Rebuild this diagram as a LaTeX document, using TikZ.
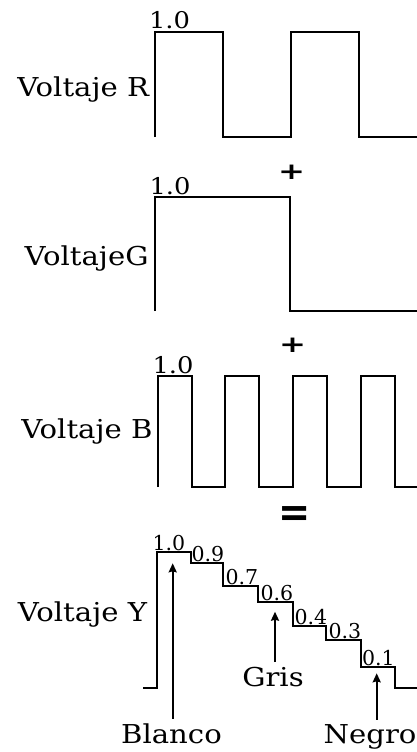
\documentclass[tikz,border=0pt]{standalone}
\usepackage{fontspec}
\usetikzlibrary{arrows.meta}
\newfontfamily\lblfont[FakeStretch=1.12]{DejaVu Serif}
\newfontfamily\numfont{DejaVu Serif}
\newfontfamily\opfont{DejaVu Sans}
\begin{document}
\begin{tikzpicture}[x=1pt,y=-1pt,
  wave/.style={line width=2pt, line join=miter},
  lbl/.style={font=\lblfont\fontsize{26}{30}\selectfont, inner sep=0pt, outer sep=0pt},
  toplbl/.style={font=\lblfont\fontsize{23}{27}\selectfont, inner sep=0pt, outer sep=0pt, anchor=base west},
  steplbl/.style={font=\numfont\fontsize{20.5}{24}\selectfont, inner sep=0pt, outer sep=0pt, anchor=base west},
  pointer/.style={lbl, outer ysep=5pt},
  arr/.style={line width=1.9pt, -{Stealth[length=9pt,width=8pt,inset=1pt]}},
  op/.style={font=\opfont\bfseries\fontsize{23}{27}\selectfont, inner sep=0pt, anchor=base}
]
\useasboundingbox (0,0) rectangle (417,752);

% Voltaje R
\draw[wave] (154.5,137) -- (154.5,32) -- (223,32) -- (223,137) -- (290.5,137)
  -- (290.5,32) -- (358.5,32) -- (358.5,137) -- (420,137);
\node[lbl, anchor=base east] (vr) at (149,96) {Voltaje R};
\node[toplbl] (r10) at (149,28.3) {1.0};
\node[op] (p1) at (291.7,179.7) {\scalebox{1.4}[1]{+}};

% Voltaje G
\draw[wave] (154.5,311) -- (154.5,196.7) -- (290,196.7) -- (290,311) -- (420,311);
\node[lbl, anchor=base east] (vg) at (148.5,265) {VoltajeG};
\node[toplbl] (g10) at (149.5,194) {1.0};
\node[op] (p2) at (292.5,352.2) {\scalebox{1.4}[1]{+}};

% Voltaje B
\draw[wave] (157.7,487) -- (157.7,375.7) -- (191.7,375.7) -- (191.7,487) -- (225,487)
  -- (225,375.7) -- (259.3,375.7) -- (259.3,487) -- (292.7,487) -- (292.7,375.7)
  -- (326.7,375.7) -- (326.7,487) -- (361,487) -- (361,375.7) -- (395,375.7)
  -- (395,487) -- (420,487);
\node[lbl, anchor=base east] (vb) at (152.5,438.3) {Voltaje B};
\node[toplbl] (b10) at (152.5,373) {1.0};
\node[op] (eq) at (295,526) {\scalebox{1.67}[1.8]{=}};

% Voltaje Y
\draw[wave] (143,688.3) -- (157.3,688.3) -- (157.3,552.3) -- (191,552.3) -- (191,563.3)
  -- (223.3,563.3) -- (223.3,586) -- (258.3,586) -- (258.3,602.3) -- (292.7,602.3)
  -- (292.7,626) -- (326,626) -- (326,640) -- (360.7,640) -- (360.7,667.3)
  -- (395,667.3) -- (395,688.3) -- (420,688.3);
\node[lbl, anchor=base east] (vy) at (147,621) {Voltaje Y};
\node[steplbl] (y10) at (152.5,550) {1.0};
\node[steplbl] (y09) at (191.5,561.7) {0.9};
\node[steplbl] (y07) at (225.5,584.5) {0.7};
\node[steplbl] (y06) at (260.5,600.5) {0.6};
\node[steplbl] (y04) at (294.5,624.5) {0.4};
\node[steplbl] (y03) at (328.5,638.3) {0.3};
\node[steplbl] (y01) at (362,665.7) {0.1};

% pointers
\coordinate (bt) at (172.7,563.3);
\coordinate (gt) at (275,611.7);
\coordinate (nt) at (376.7,673.3);
\node[pointer, anchor=base] (blanco) at (171.5,743.5) {Blanco};
\node[pointer, anchor=base east] (negro) at (416.5,743.5) {Negro};
\node[pointer, anchor=base] (gris) at (273,686.5) {Gris};
\draw[arr] (blanco.north -| bt) -- (bt);
\draw[arr] (gris.north -| gt) -- (gt);
\draw[arr] (negro.north -| nt) -- (nt);
\end{tikzpicture}
\end{document}
